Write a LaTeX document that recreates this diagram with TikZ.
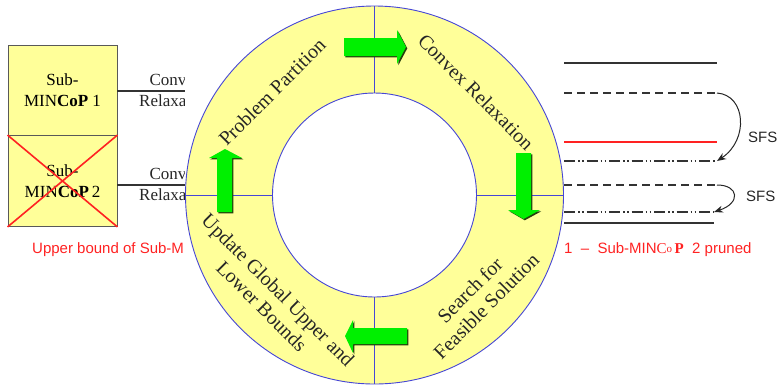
\documentclass[tikz,border=0pt]{standalone}
\usepackage{fontspec}
\setmainfont{Liberation Serif}
\setsansfont{Liberation Sans}
\usetikzlibrary{arrows.meta}
\definecolor{paleyellow}{HTML}{FFFF99}
\definecolor{ringblue}{HTML}{4646D6}
\definecolor{leafgreen}{HTML}{00F000}
\definecolor{shadowgreen}{HTML}{26400E}
\definecolor{inkgray}{HTML}{333333}
\definecolor{boundred}{HTML}{FF2222}
\begin{document}
\begin{tikzpicture}[x=1pt,y=-1pt,
  subbox/.style={draw=black!65, fill=paleyellow, line width=0.9pt,
    minimum width=109pt, minimum height=91pt, inner sep=0pt, align=center,
    font=\fontsize{17}{21}\selectfont},
  relaxlabel/.style={font=\fontsize{17}{19}\selectfont, inner sep=0pt, text=black!85},
  link/.style={draw=inkgray, line width=1.1pt},
  ringtext/.style={font=\fontsize{20}{23}\selectfont, align=center, text=black!85, inner sep=0pt},
  bluerule/.style={draw=ringblue, line width=0.9pt},
  blockarrow/.style={fill=leafgreen},
  blockshadow/.style={fill=shadowgreen},
  redtext/.style={text=boundred, font=\sffamily\fontsize{15}{17}\selectfont, inner sep=0pt},
  level/.style={draw=inkgray, line width=1.1pt},
  sfslabel/.style={font=\sffamily\fontsize{15}{17}\selectfont, text=black!85, inner sep=0pt},
  sfsarc/.style={draw=black!85, line width=1pt, -{Stealth[length=9pt,width=7pt]}}]
\useasboundingbox (0,0) rectangle (779,384);

% ---- sub-problem boxes on the left ----
\node[subbox] (p1) at (62.5,90.5) {Sub-\\MIN\textbf{CoP} 1};
\node[subbox] (p2) at (62.5,181) {Sub-\\MIN\textbf{CoP}\,2};
\draw[boundred, line width=1.6pt] (p2.north west) -- (p2.south east)
      (p2.south west) -- (p2.north east);

% relaxation links leaving each box
\coordinate (r1) at (215,91);
\coordinate (r2) at (215,185);
\draw[link] (p1.east |- r1) -- (r1);
\draw[link] (p2.east |- r2) -- (r2);
\node[relaxlabel] (cv1) at (176,80) {Convex};
\node[relaxlabel] (rx1) at (176,101) {Relaxation};
\node[relaxlabel] (cv2) at (176,174) {Convex};
\node[relaxlabel] (rx2) at (176,195) {Relaxation};

% pruning note
\node[redtext, anchor=west] (ubl) at (32,250) {Upper bound of Sub-MINCoP};
\node[redtext, anchor=west] (ubr) at (564,250)
  {1 \ -- \ Sub-MIN{\rmfamily C\raisebox{1.5pt}{\fontsize{11}{12}\selectfont o}\,\textbf{P}} \ 2 pruned};

% ---- bound levels on the right ----
\coordinate (a0) at (564,63);  \coordinate (a1) at (717,63);
\coordinate (b0) at (564,93);  \coordinate (b1) at (717,93);
\coordinate (c0) at (564,142); \coordinate (c1) at (717,142);
\coordinate (d0) at (564,161); \coordinate (d1) at (717,161);
\coordinate (e0) at (564,185); \coordinate (e1) at (717,185);
\coordinate (f0) at (564,212); \coordinate (f1) at (714,212);
\coordinate (g0) at (564,223); \coordinate (g1) at (714,223);
\draw[level] (a0) -- (a1);
\draw[level, dash pattern=on 8pt off 5pt] (b0) -- (b1);
\draw[level, draw=boundred] (c0) -- (c1);
\draw[level, dash pattern=on 11pt off 3pt on 1.5pt off 2.5pt on 1.5pt off 3pt] (d0) -- (d1);
\draw[level, dash pattern=on 8pt off 5pt] (e0) -- (e1);
\draw[level, dash pattern=on 11pt off 3pt on 1.5pt off 2.5pt on 1.5pt off 3pt] (f0) -- (f1);
\draw[level] (g0) -- (g1);
\draw[sfsarc] (b1) .. controls (746,95) and (749,140) .. (d1);
\draw[sfsarc] (e1) .. controls (739,185) and (741,203) .. (f1);
\node[sfslabel, anchor=west] (sfs1) at (748,137) {SFS};
\node[sfslabel, anchor=west] (sfs2) at (746,196) {SFS};

% ---- the cycle ring ----
\fill[white] (185,0) rectangle (564,384);
\coordinate (o) at (374.5,195);
\fill[paleyellow, even odd rule] (o) circle[radius=189pt] (o) circle[radius=102pt];
\draw[bluerule] (o) circle[radius=189pt];
\draw[bluerule] (o) circle[radius=102pt];
\draw[bluerule] (374.5,6) -- (374.5,93);
\draw[bluerule] (374.5,297) -- (374.5,384);
\draw[bluerule] (185.5,195) -- (272.5,195);
\draw[bluerule] (476.5,195) -- (563.5,195);

\node[ringtext, rotate=45] (s1) at (272,92) {Problem Partition};
\node[ringtext, rotate=-45] (s2) at (476,92) {Convex Relaxation};
\node[ringtext, rotate=45] (s3) at (478,298) {Search for\\Feasible Solution};
\node[ringtext, rotate=-45] (s4) at (270,298) {Update Global Upper and\\Lower Bounds};

% green block arrows between the stages
\foreach \dx/\dy/\st in {1.3/1.3/blockshadow, 0/0/blockarrow}{
  \begin{scope}[shift={(\dx,\dy)}]
    \fill[\st] (344,38) -- (397,38) -- (397,30) -- (406,47) -- (397,64) -- (397,56) -- (344,56) -- cycle;
    \fill[\st] (516,153) -- (531,153) -- (531,210) -- (540,210) -- (523.5,219) -- (508,210) -- (516,210) -- cycle;
    \fill[\st] (407,328) -- (407,344) -- (353,344) -- (353,353) -- (345,336) -- (353,320) -- (353,328) -- cycle;
    \fill[\st] (217,212) -- (217,158) -- (209,158) -- (225,149) -- (242,158) -- (232,158) -- (232,212) -- cycle;
  \end{scope}}
\end{tikzpicture}
\end{document}
